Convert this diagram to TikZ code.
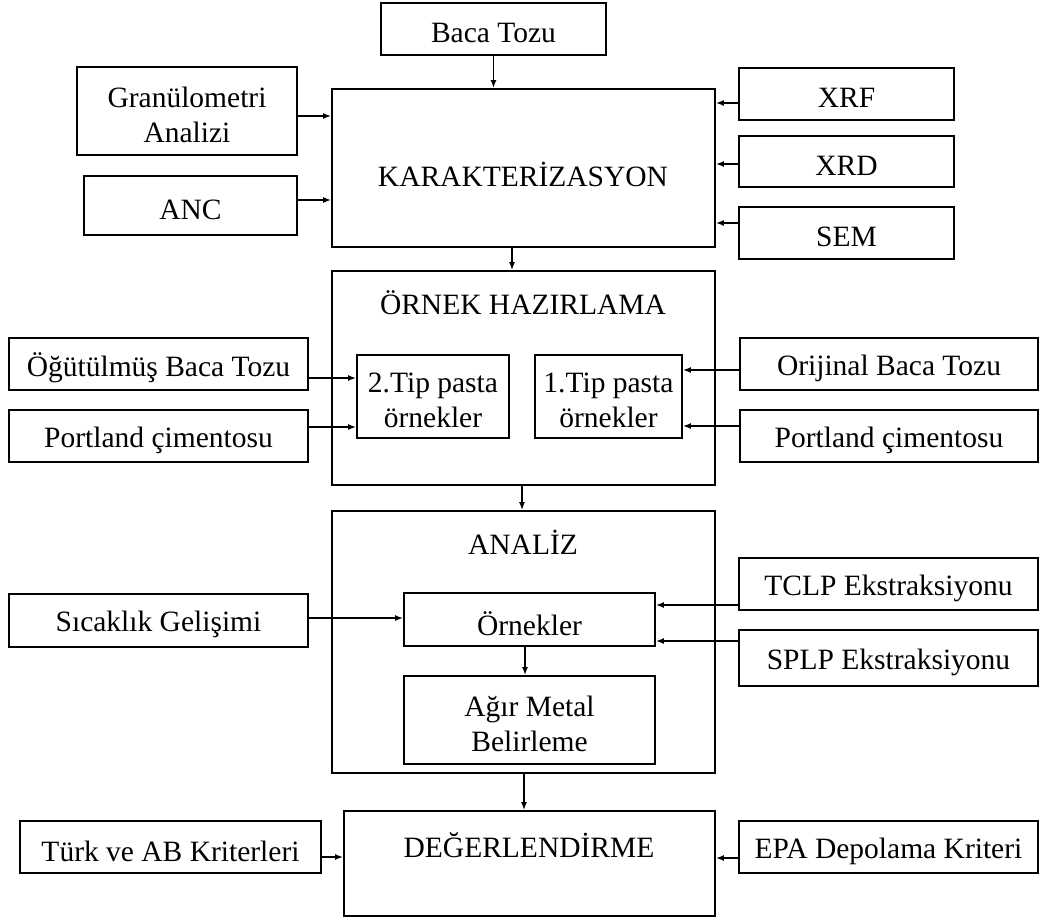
\documentclass[tikz,border=0pt]{standalone}
\usepackage{fontspec}
\setmainfont{Liberation Serif}
\usetikzlibrary{arrows.meta}
\newcommand\fs{\fontsize{29.5}{35}\selectfont}
\newcommand\dbox[6]{\node[box, minimum width={#4-#2}, minimum height={#5-#3}] (#1) at ({(#2+#4)/2},{(#3+#5)/2}) {};
  \node[txt] (#1t) at ([yshift=-4pt]#1.center) {#6};}
\tikzset{
  box/.style={draw, line width=1.8pt, inner sep=0pt},
  txt/.style={inner sep=0pt, align=center, font=\fs},
  ttl/.style={inner sep=0pt, font=\fs},
  arr/.style={line width=1.6pt, -{Latex[length=8pt,width=6pt]}},
}
\begin{document}
\begin{tikzpicture}[x=1pt,y=-1pt]
\useasboundingbox (0,0) rectangle (1062,917);
% top section
\dbox{baca}{381}{3}{606}{55}{Baca Tozu}
\dbox{kar}{332}{89}{715}{247}{}
\node[ttl] (kart) at (523,174) {KARAKTERİZASYON};
\dbox{gran}{77}{67}{297}{155}{Granülometri\\Analizi}
\dbox{anc}{84}{176}{297}{235}{ANC}
\dbox{xrf}{739}{68}{954}{120}{XRF}
\dbox{xrd}{739}{136}{954}{187}{XRD}
\dbox{sem}{739}{207}{954}{259}{SEM}
% sample preparation
\dbox{orn}{332}{271}{715}{485}{}
\node[ttl] (ornt) at (523,303) {ÖRNEK HAZIRLAMA};
\dbox{tip2}{357}{355}{509}{438}{2.Tip pasta\\örnekler}
\dbox{tip1}{535}{355}{682}{438}{1.Tip pasta\\örnekler}
\dbox{ogut}{9}{338}{308}{390}{Öğütülmüş Baca Tozu}
\dbox{portl}{9}{410}{308}{462}{Portland çimentosu}
\dbox{orij}{740}{338}{1038}{390}{Orijinal Baca Tozu}
\dbox{portr}{740}{410}{1038}{462}{Portland çimentosu}
% analysis
\dbox{anl}{332}{511}{715}{773}{}
\node[ttl] (anlt) at (523,542) {ANALİZ};
\dbox{ornek}{404}{593}{655}{646}{Örnekler}
\dbox{agir}{404}{676}{655}{764}{Ağır Metal\\Belirleme}
\dbox{sic}{9}{594}{308}{647}{Sıcaklık Gelişimi}
\dbox{tclp}{739}{558}{1038}{610}{TCLP Ekstraksiyonu}
\dbox{splp}{739}{630}{1038}{686}{SPLP Ekstraksiyonu}
% evaluation
\dbox{deg}{344}{811}{715}{916}{}
\node[ttl] (degt) at (529,845) {DEĞERLENDİRME};
\dbox{turk}{20}{821}{321}{873}{Türk ve AB Kriterleri}
\dbox{epa}{739}{821}{1038}{873}{EPA Depolama Kriteri}
% connectors
\draw[arr] (baca.south |- 0,55) -- (baca.south |- kar.north);
\draw[arr] (gran.east |- 0,116) -- (kar.west |- 0,116);
\draw[arr] (anc.east |- 0,200) -- (kar.west |- 0,200);
\draw[arr] (xrf.west |- 0,103) -- (kar.east |- 0,103);
\draw[arr] (xrd.west |- 0,164) -- (kar.east |- 0,164);
\draw[arr] (sem.west |- 0,223) -- (kar.east |- 0,223);
\draw[arr] (kar.south -| 512,0) -- (orn.north -| 512,0);
\draw[arr] (ogut.east |- 0,378) -- (tip2.west |- 0,378);
\draw[arr] (portl.east |- 0,427) -- (tip2.west |- 0,427);
\draw[arr] (orij.west |- 0,370) -- (tip1.east |- 0,370);
\draw[arr] (portr.west |- 0,426) -- (tip1.east |- 0,426);
\draw[arr] (orn.south -| 522,0) -- (anl.north -| 522,0);
\draw[arr] (sic.east |- 0,618) -- (ornek.west |- 0,618);
\draw[arr] (tclp.west |- 0,605) -- (ornek.east |- 0,605);
\draw[arr] (splp.west |- 0,641) -- (ornek.east |- 0,641);
\draw[arr] (ornek.south -| 525,0) -- (agir.north -| 525,0);
\draw[arr] (anl.south -| 524,0) -- (deg.north -| 524,0);
\draw[arr] (turk.east |- 0,857) -- (deg.west |- 0,857);
\draw[arr] (epa.west |- 0,858) -- (deg.east |- 0,858);
\end{tikzpicture}
\end{document}
